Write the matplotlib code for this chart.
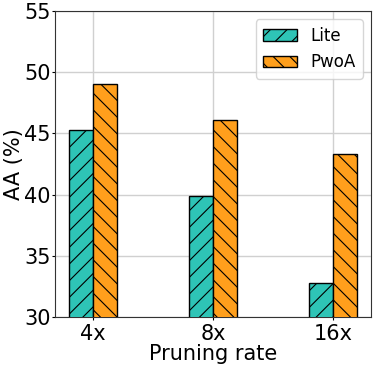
import matplotlib
matplotlib.use("Agg")
import matplotlib.pyplot as plt
import numpy as np

categories = ["4x", "8x", "16x"]
lite = [45.3, 39.9, 32.8]
pwoa = [49.0, 46.1, 43.3]
series_names = ["Lite", "PwoA"]

plt.rcParams['hatch.linewidth'] = 0.8
fig, ax = plt.subplots(figsize=(3.74, 3.67), dpi=100)
x = np.arange(len(categories))
w = 0.2
ax.bar(x - w/2, lite, w, color="#2EC4B6", edgecolor="black", hatch="//", label=series_names[0], linewidth=1, zorder=3)
ax.bar(x + w/2, pwoa, w, color="#FF9F1C", edgecolor="black", hatch="\\\\", label=series_names[1], linewidth=1, zorder=3)
ax.set_ylim(30, 55)
ax.set_xticks(x)
ax.set_xticklabels(categories)
ax.tick_params(axis="y", labelsize=15, length=2, pad=1)
ax.tick_params(axis="x", labelsize=15, length=2, pad=3)
ax.set_xlabel("Pruning rate", fontsize=15, labelpad=0)
ax.set_ylabel("AA (%)", fontsize=15, labelpad=0)
ax.grid(True, color="#d0d0d0", linewidth=1, zorder=0)
ax.set_axisbelow(True)
for s in ax.spines.values():
    s.set_color("#333333")
ax.legend(fontsize=12, loc="upper right", borderpad=0.45)
fig.subplots_adjust(left=0.147, right=0.992, top=0.97, bottom=0.136)
fig.savefig("out.png", dpi=100)
